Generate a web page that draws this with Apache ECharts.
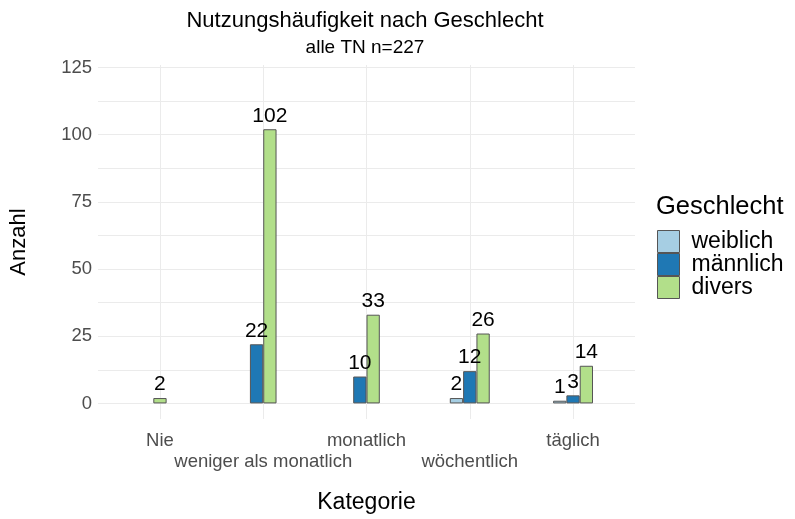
<!DOCTYPE html>
<html>
<head>
<meta charset="utf-8">
<title>Nutzungshäufigkeit nach Geschlecht</title>
<script src="https://cdn.jsdelivr.net/npm/echarts@6/dist/echarts.min.js"></script>
<style>
  html, body { margin: 0; padding: 0; background: #fff; }
  #chart { width: 795px; height: 519px; }
</style>
</head>
<body>
<div id="chart"></div>
<script>
// Daten
var categories = ['Nie', 'weniger als monatlich', 'monatlich', 'wöchentlich', 'täglich']
var seriesNames = ['weiblich', 'männlich', 'divers']
var weiblich = [null, null, null, 2, 1]
var maennlich = [null, 22, 10, 12, 3]
var divers = [2, 102, 33, 26, 14]
var yTicks = [0, 25, 50, 75, 100, 125]
var yGrid = [0, 12.5, 25, 37.5, 50, 62.5, 75, 87.5, 100, 112.5, 125]

var colors = ['#a6cee3', '#1f78b4', '#b2df8a']
var fontFamily = '"Liberation Sans", Arial, sans-serif'
var dodge = 0.129 // Breite eines Balkens in Kategorie-Einheiten

// Balken nur fuer vorhandene Gruppen, zentriert je Kategorie (wie position_dodge(preserve = "single"))
var values = [weiblich, maennlich, divers]
var points = [[], [], []]
categories.forEach(function (c, i) {
  var present = []
  values.forEach(function (v, s) {
    if (v[i] !== null) present.push(s)
  })
  present.forEach(function (s, k) {
    var x = i + (k - (present.length - 1) / 2) * dodge
    points[s].push([x, values[s][i]])
  })
})

var chart = echarts.init(document.getElementById('chart'))

var series = seriesNames.map(function (name, s) {
  return {
    name: name,
    type: 'bar',
    data: points[s],
    barWidth: 13.3,
    barGap: '-100%',
    itemStyle: {
      color: colors[s],
      borderColor: '#555',
      borderWidth: 1
    },
    label: {
      show: true,
      position: 'top',
      distance: 3,
      color: '#000',
      fontSize: 21,
      fontFamily: fontFamily,
      formatter: function (p) { return p.value[1] }
    },
    emphasis: { disabled: true }
  }
})

var option = {
  backgroundColor: '#fff',
  animation: false,
  textStyle: { fontFamily: fontFamily },
  graphic: [
    {
      type: 'text', x: 365, y: 32,
      style: { text: 'Nutzungshäufigkeit nach Geschlecht', fill: '#000', font: '22px ' + fontFamily, textAlign: 'center', textVerticalAlign: 'bottom' }
    },
    {
      type: 'text', x: 365, y: 57,
      style: { text: 'alle TN n=227', fill: '#000', font: '19px ' + fontFamily, textAlign: 'center', textVerticalAlign: 'bottom' }
    },
    {
      type: 'text', x: 656, y: 220,
      style: { text: 'Geschlecht', fill: '#000', font: '25.5px ' + fontFamily, textAlign: 'left', textVerticalAlign: 'bottom' }
    }
  ],
  legend: {
    orient: 'vertical',
    left: 657,
    top: 230,
    padding: 0,
    itemWidth: 22,
    itemHeight: 22,
    itemGap: 0,
    icon: 'rect',
    data: seriesNames,
    itemStyle: { borderColor: '#555', borderWidth: 1 },
    textStyle: { fontSize: 23, lineHeight: 22, color: '#000', fontFamily: fontFamily, padding: [0, 0, 0, 7] }
  },
  grid: {
    left: 98,
    right: 160,
    top: 65,
    bottom: 97,
    containLabel: false
  },
  xAxis: {
    type: 'value',
    min: -0.6,
    max: 4.6,
    name: 'Kategorie',
    nameLocation: 'middle',
    nameGap: 72,
    nameTextStyle: { fontSize: 23, color: '#000', fontFamily: fontFamily },
    axisLine: { show: false, onZero: false },
    axisTick: { show: false, customValues: [0, 1, 2, 3, 4] },
    axisLabel: {
      customValues: [0, 1, 2, 3, 4],
      margin: 11,
      fontSize: 18.5,
      lineHeight: 21,
      color: '#4d4d4d',
      fontFamily: fontFamily,
      formatter: function (v) {
        var i = Math.round(v)
        return i % 2 === 1 ? '\n' + categories[i] : categories[i]
      }
    },
    splitLine: { show: true, lineStyle: { color: '#ebebeb', width: 1 } }
  },
  yAxis: {
    type: 'value',
    min: -5.8,
    max: 125.9,
    name: 'Anzahl',
    nameLocation: 'middle',
    nameGap: 68,
    nameRotate: 90,
    nameTextStyle: { fontSize: 22, color: '#000', fontFamily: fontFamily },
    axisLine: { show: false },
    axisTick: { show: false, customValues: yGrid },
    axisLabel: {
      customValues: yTicks,
      margin: 6,
      fontSize: 18.5,
      color: '#4d4d4d',
      fontFamily: fontFamily
    },
    splitLine: { show: true, lineStyle: { color: '#ebebeb', width: 1 } }
  },
  series: series
}
chart.setOption(option)
</script>
</body>
</html>
